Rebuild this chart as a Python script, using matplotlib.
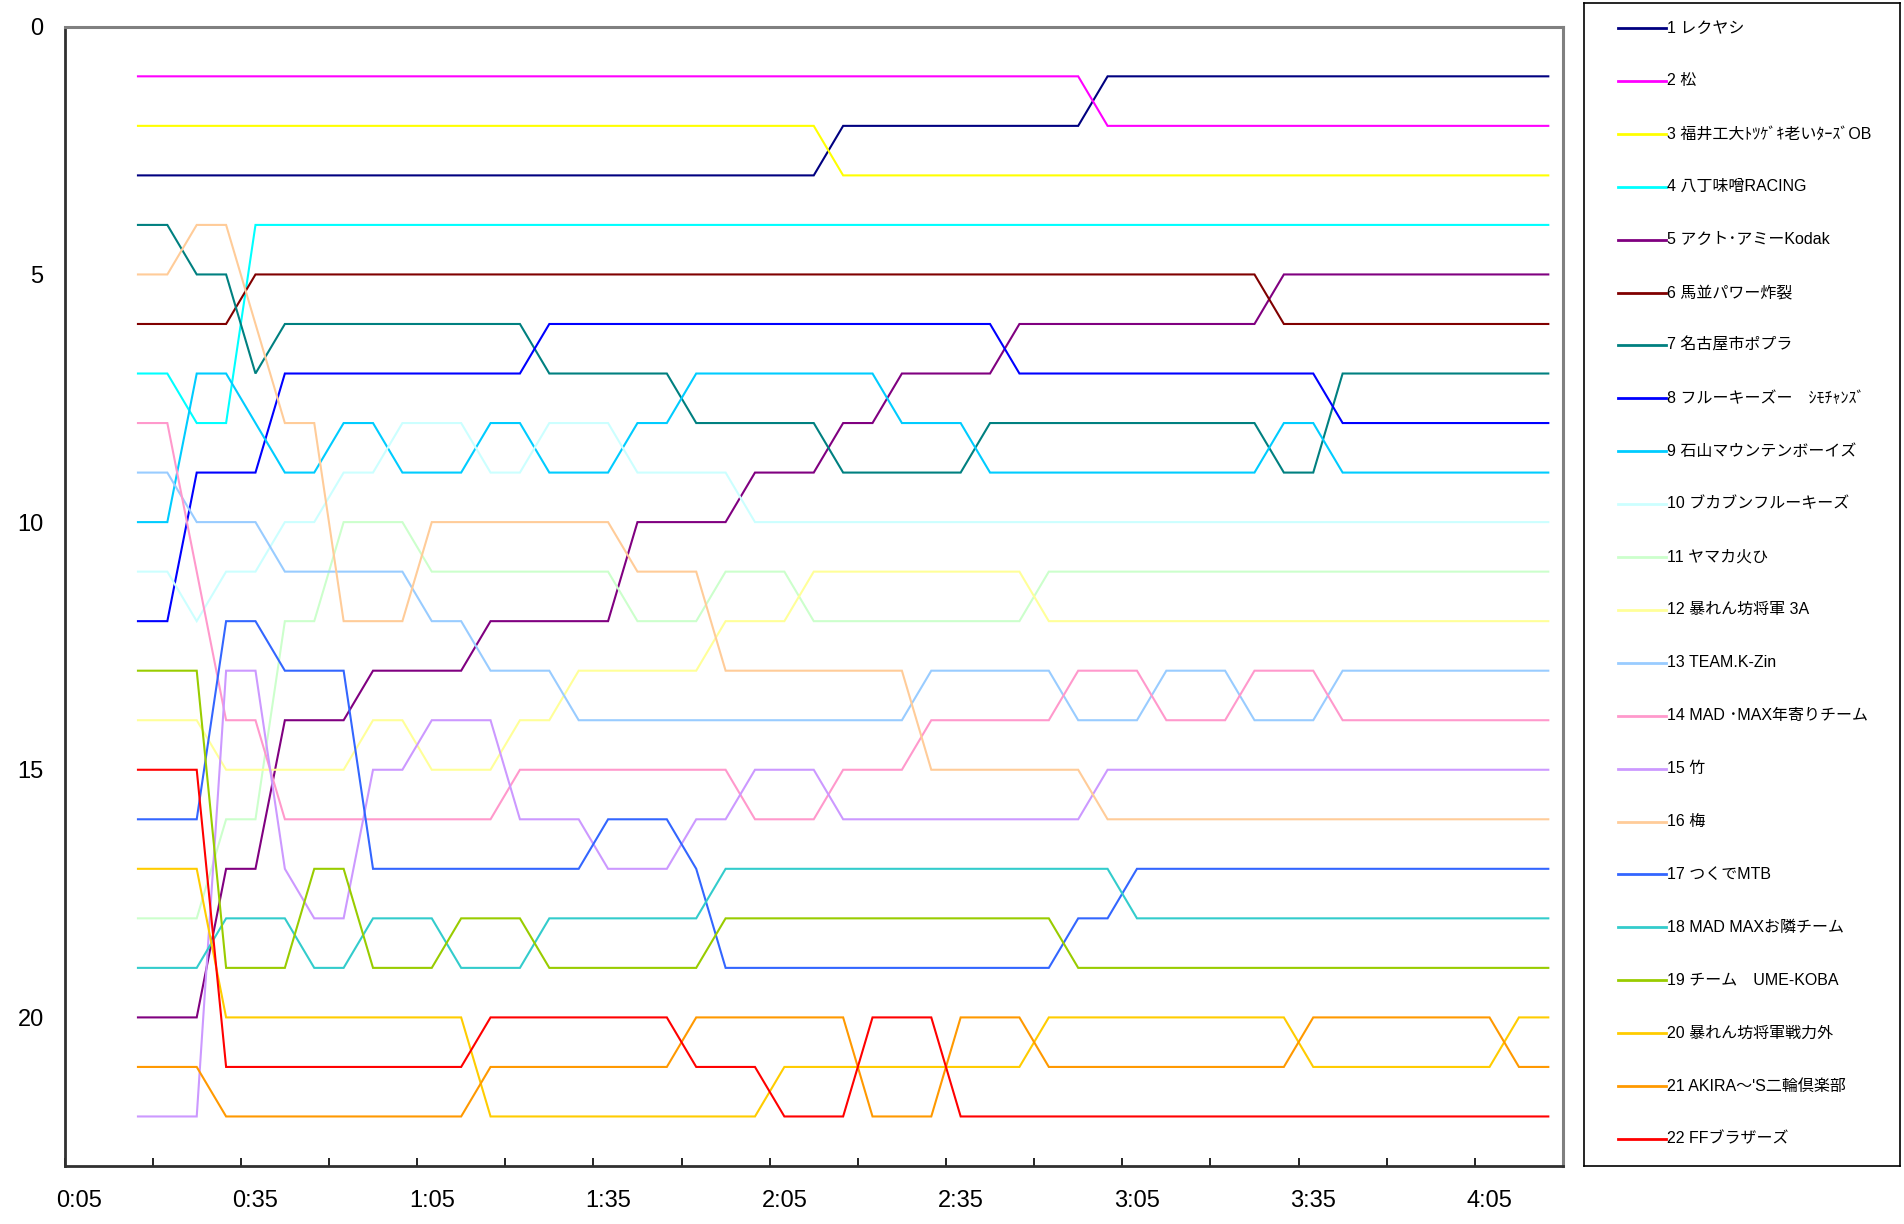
import matplotlib
matplotlib.use("Agg")
import matplotlib.pyplot as plt

plt.rcParams['font.family'] = ['Liberation Sans', 'Noto Sans CJK JP']

# lap times (h:mm) at which the position was recorded
lap_times = [
    "0:15", "0:20", "0:25", "0:30", "0:35", "0:40", "0:45", "0:50", "0:55", "1:00",
    "1:05", "1:10", "1:15", "1:20", "1:25", "1:30", "1:35", "1:40", "1:45", "1:50",
    "1:55", "2:00", "2:05", "2:10", "2:15", "2:20", "2:25", "2:30", "2:35", "2:40",
    "2:45", "2:50", "2:55", "3:00", "3:05", "3:10", "3:15", "3:20", "3:25", "3:30",
    "3:35", "3:40", "3:45", "3:50", "3:55", "4:00", "4:05", "4:10", "4:15",
]

team_names = [
    "1 レクヤシ",
    "2 松",
    "3 福井工大ﾄﾂｹﾞｷ老いﾀｰｽﾞOB",
    "4 八丁味噌RACING",
    "5 アクト･アミーKodak",
    "6 馬並パワー炸裂",
    "7 名古屋市ポプラ",
    "8 フルーキーズー　ｼﾓﾁｬﾝｽﾞ",
    "9 石山マウンテンボーイズ",
    "10 ブカブンフルーキーズ",
    "11 ヤマカ火ひ",
    "12 暴れん坊将軍 3A",
    "13 TEAM.K-Zin",
    "14 MAD ･MAX年寄りチーム",
    "15 竹",
    "16 梅",
    "17 つくでMTB",
    "18 MAD MAXお隣チーム",
    "19 チーム　UME-KOBA",
    "20 暴れん坊将軍戦力外",
    "21 AKIRA～'S二輪倶楽部",
    "22 FFブラザーズ",
]

team_colors = [
    "#000080", "#FF00FF", "#FFFF00", "#00FFFF", "#800080", "#800000",
    "#008080", "#0000FF", "#00CCFF", "#CCFFFF", "#CCFFCC", "#FFFF99",
    "#99CCFF", "#FF99CC", "#CC99FF", "#FFCC99", "#3366FF", "#33CCCC",
    "#99CC00", "#FFCC00", "#FF9900", "#FF0000",
]

# positions per team, one value per lap time
pos_01 = [3, 3, 3, 3, 3, 3, 3, 3, 3, 3,
          3, 3, 3, 3, 3, 3, 3, 3, 3, 3,
          3, 3, 3, 3, 2, 2, 2, 2, 2, 2,
          2, 2, 2, 1, 1, 1, 1, 1, 1, 1,
          1, 1, 1, 1, 1, 1, 1, 1, 1]
pos_02 = [1, 1, 1, 1, 1, 1, 1, 1, 1, 1,
          1, 1, 1, 1, 1, 1, 1, 1, 1, 1,
          1, 1, 1, 1, 1, 1, 1, 1, 1, 1,
          1, 1, 1, 2, 2, 2, 2, 2, 2, 2,
          2, 2, 2, 2, 2, 2, 2, 2, 2]
pos_03 = [2, 2, 2, 2, 2, 2, 2, 2, 2, 2,
          2, 2, 2, 2, 2, 2, 2, 2, 2, 2,
          2, 2, 2, 2, 3, 3, 3, 3, 3, 3,
          3, 3, 3, 3, 3, 3, 3, 3, 3, 3,
          3, 3, 3, 3, 3, 3, 3, 3, 3]
pos_04 = [7, 7, 8, 8, 4, 4, 4, 4, 4, 4,
          4, 4, 4, 4, 4, 4, 4, 4, 4, 4,
          4, 4, 4, 4, 4, 4, 4, 4, 4, 4,
          4, 4, 4, 4, 4, 4, 4, 4, 4, 4,
          4, 4, 4, 4, 4, 4, 4, 4, 4]
pos_05 = [20, 20, 20, 17, 17, 14, 14, 14, 13, 13,
          13, 13, 12, 12, 12, 12, 12, 10, 10, 10,
          10, 9, 9, 9, 8, 8, 7, 7, 7, 7,
          6, 6, 6, 6, 6, 6, 6, 6, 6, 5,
          5, 5, 5, 5, 5, 5, 5, 5, 5]
pos_06 = [6, 6, 6, 6, 5, 5, 5, 5, 5, 5,
          5, 5, 5, 5, 5, 5, 5, 5, 5, 5,
          5, 5, 5, 5, 5, 5, 5, 5, 5, 5,
          5, 5, 5, 5, 5, 5, 5, 5, 5, 6,
          6, 6, 6, 6, 6, 6, 6, 6, 6]
pos_07 = [4, 4, 5, 5, 7, 6, 6, 6, 6, 6,
          6, 6, 6, 6, 7, 7, 7, 7, 7, 8,
          8, 8, 8, 8, 9, 9, 9, 9, 9, 8,
          8, 8, 8, 8, 8, 8, 8, 8, 8, 9,
          9, 7, 7, 7, 7, 7, 7, 7, 7]
pos_08 = [12, 12, 9, 9, 9, 7, 7, 7, 7, 7,
          7, 7, 7, 7, 6, 6, 6, 6, 6, 6,
          6, 6, 6, 6, 6, 6, 6, 6, 6, 6,
          7, 7, 7, 7, 7, 7, 7, 7, 7, 7,
          7, 8, 8, 8, 8, 8, 8, 8, 8]
pos_09 = [10, 10, 7, 7, 8, 9, 9, 8, 8, 9,
          9, 9, 8, 8, 9, 9, 9, 8, 8, 7,
          7, 7, 7, 7, 7, 7, 8, 8, 8, 9,
          9, 9, 9, 9, 9, 9, 9, 9, 9, 8,
          8, 9, 9, 9, 9, 9, 9, 9, 9]
pos_10 = [11, 11, 12, 11, 11, 10, 10, 9, 9, 8,
          8, 8, 9, 9, 8, 8, 8, 9, 9, 9,
          9, 10, 10, 10, 10, 10, 10, 10, 10, 10,
          10, 10, 10, 10, 10, 10, 10, 10, 10, 10,
          10, 10, 10, 10, 10, 10, 10, 10, 10]
pos_11 = [18, 18, 18, 16, 16, 12, 12, 10, 10, 10,
          11, 11, 11, 11, 11, 11, 11, 12, 12, 12,
          11, 11, 11, 12, 12, 12, 12, 12, 12, 12,
          12, 11, 11, 11, 11, 11, 11, 11, 11, 11,
          11, 11, 11, 11, 11, 11, 11, 11, 11]
pos_12 = [14, 14, 14, 15, 15, 15, 15, 15, 14, 14,
          15, 15, 15, 14, 14, 13, 13, 13, 13, 13,
          12, 12, 12, 11, 11, 11, 11, 11, 11, 11,
          11, 12, 12, 12, 12, 12, 12, 12, 12, 12,
          12, 12, 12, 12, 12, 12, 12, 12, 12]
pos_13 = [9, 9, 10, 10, 10, 11, 11, 11, 11, 11,
          12, 12, 13, 13, 13, 14, 14, 14, 14, 14,
          14, 14, 14, 14, 14, 14, 14, 13, 13, 13,
          13, 13, 14, 14, 14, 13, 13, 13, 14, 14,
          14, 13, 13, 13, 13, 13, 13, 13, 13]
pos_14 = [8, 8, 11, 14, 14, 16, 16, 16, 16, 16,
          16, 16, 16, 15, 15, 15, 15, 15, 15, 15,
          15, 16, 16, 16, 15, 15, 15, 14, 14, 14,
          14, 14, 13, 13, 13, 14, 14, 14, 13, 13,
          13, 14, 14, 14, 14, 14, 14, 14, 14]
pos_15 = [22, 22, 22, 13, 13, 17, 18, 18, 15, 15,
          14, 14, 14, 16, 16, 16, 17, 17, 17, 16,
          16, 15, 15, 15, 16, 16, 16, 16, 16, 16,
          16, 16, 16, 15, 15, 15, 15, 15, 15, 15,
          15, 15, 15, 15, 15, 15, 15, 15, 15]
pos_16 = [5, 5, 4, 4, 6, 8, 8, 12, 12, 12,
          10, 10, 10, 10, 10, 10, 10, 11, 11, 11,
          13, 13, 13, 13, 13, 13, 13, 15, 15, 15,
          15, 15, 15, 16, 16, 16, 16, 16, 16, 16,
          16, 16, 16, 16, 16, 16, 16, 16, 16]
pos_17 = [16, 16, 16, 12, 12, 13, 13, 13, 17, 17,
          17, 17, 17, 17, 17, 17, 16, 16, 16, 17,
          19, 19, 19, 19, 19, 19, 19, 19, 19, 19,
          19, 19, 18, 18, 17, 17, 17, 17, 17, 17,
          17, 17, 17, 17, 17, 17, 17, 17, 17]
pos_18 = [19, 19, 19, 18, 18, 18, 19, 19, 18, 18,
          18, 19, 19, 19, 18, 18, 18, 18, 18, 18,
          17, 17, 17, 17, 17, 17, 17, 17, 17, 17,
          17, 17, 17, 17, 18, 18, 18, 18, 18, 18,
          18, 18, 18, 18, 18, 18, 18, 18, 18]
pos_19 = [13, 13, 13, 19, 19, 19, 17, 17, 19, 19,
          19, 18, 18, 18, 19, 19, 19, 19, 19, 19,
          18, 18, 18, 18, 18, 18, 18, 18, 18, 18,
          18, 18, 19, 19, 19, 19, 19, 19, 19, 19,
          19, 19, 19, 19, 19, 19, 19, 19, 19]
pos_20 = [17, 17, 17, 20, 20, 20, 20, 20, 20, 20,
          20, 20, 22, 22, 22, 22, 22, 22, 22, 22,
          22, 22, 21, 21, 21, 21, 21, 21, 21, 21,
          21, 20, 20, 20, 20, 20, 20, 20, 20, 20,
          21, 21, 21, 21, 21, 21, 21, 20, 20]
pos_21 = [21, 21, 21, 22, 22, 22, 22, 22, 22, 22,
          22, 22, 21, 21, 21, 21, 21, 21, 21, 20,
          20, 20, 20, 20, 20, 22, 22, 22, 20, 20,
          20, 21, 21, 21, 21, 21, 21, 21, 21, 21,
          20, 20, 20, 20, 20, 20, 20, 21, 21]
pos_22 = [15, 15, 15, 21, 21, 21, 21, 21, 21, 21,
          21, 21, 20, 20, 20, 20, 20, 20, 20, 21,
          21, 21, 22, 22, 22, 20, 20, 20, 22, 22,
          22, 22, 22, 22, 22, 22, 22, 22, 22, 22,
          22, 22, 22, 22, 22, 22, 22, 22, 22]

positions = [pos_01, pos_02, pos_03, pos_04, pos_05, pos_06, pos_07, pos_08,
             pos_09, pos_10, pos_11, pos_12, pos_13, pos_14, pos_15, pos_16,
             pos_17, pos_18, pos_19, pos_20, pos_21, pos_22]

x_labels = ["0:05", "0:35", "1:05", "1:35", "2:05", "2:35", "3:05", "3:35", "4:05"]
y_ticks = [0, 5, 10, 15, 20]


def to_minutes(t):
    h, m = t.split(":")
    return int(h) * 60 + int(m)


x = [to_minutes(t) for t in lap_times]
label_pos = [to_minutes(t) for t in x_labels]

W, H = 1904, 1224
fig = plt.figure(figsize=(W / 100, H / 100), dpi=100)
fig.patch.set_facecolor("white")

# main plot area
ax = fig.add_axes([64.5 / W, 1 - 1166 / H, (1563 - 64.5) / W, (1166 - 26.8) / H])
for pos, col in zip(positions, team_colors):
    ax.plot(x, pos, color=col, lw=1.5, solid_joinstyle="miter")

ax.set_xlim(2.5, 257.5)
ax.set_ylim(23, 0)

# tick marks every 15 minutes, labels every 30 minutes (offset as in the original)
ax.set_xticks([2.5 + 15 * k for k in range(18)])
ax.set_xticklabels([])
ax.set_xticks(label_pos, labels=x_labels, minor=True)
ax.tick_params(axis="x", which="major", direction="in", length=6, width=1.2, color="black")
ax.tick_params(axis="x", which="minor", length=0, pad=17, labelsize=17)
ax.set_yticks(y_ticks)
ax.tick_params(axis="y", length=0, pad=15, labelsize=17)

for side in ["left", "bottom"]:
    ax.spines[side].set_color("#303030")
    ax.spines[side].set_linewidth(2)
for side in ["top", "right"]:
    ax.spines[side].set_color("#808080")
    ax.spines[side].set_linewidth(2.2)

# legend box, drawn as its own panel
lg = fig.add_axes([1584 / W, 1 - 1166 / H, (1900 - 1584) / W, (1166 - 3) / H])
lg.set_xlim(0, 316)
lg.set_ylim(1163, 0)
lg.set_xticks([])
lg.set_yticks([])
for k, (name, col) in enumerate(zip(team_names, team_colors)):
    yy = 25 + 52.9 * k
    lg.plot([34, 82], [yy, yy], color=col, lw=2)
    lg.text(83, yy, name, fontsize=11.5, va="center", ha="left", color="black")
for s in lg.spines.values():
    s.set_color("black")
    s.set_linewidth(1.2)

fig.savefig("out.png", dpi=100, facecolor="white")
